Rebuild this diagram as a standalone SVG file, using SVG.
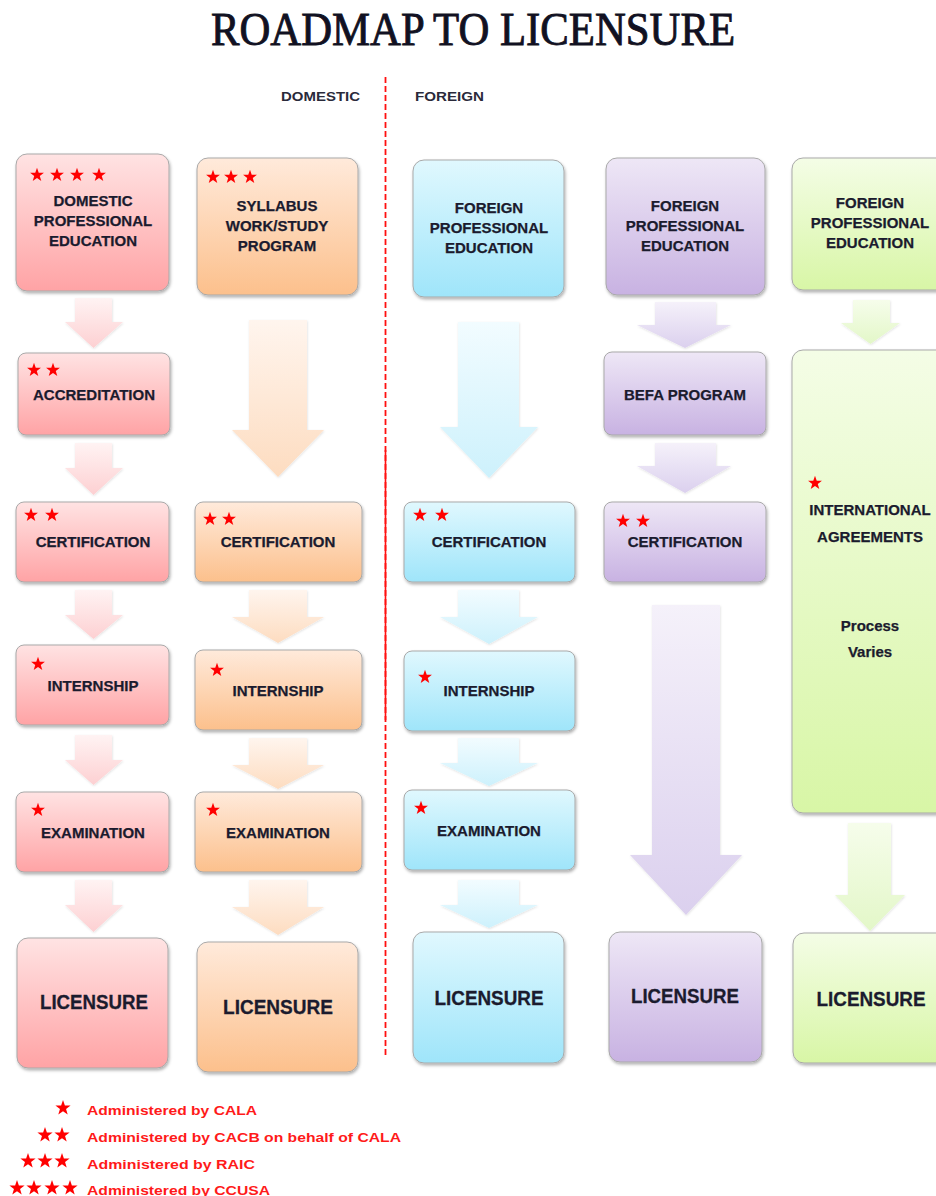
<svg xmlns="http://www.w3.org/2000/svg" width="936" height="1196" viewBox="0 0 936 1196">
<defs>
<linearGradient id="gPink" x1="0" y1="0" x2="0" y2="1"><stop offset="0" stop-color="#ffe3e3"/><stop offset="1" stop-color="#ffa3a5"/></linearGradient>
<linearGradient id="gOrange" x1="0" y1="0" x2="0" y2="1"><stop offset="0" stop-color="#ffeadb"/><stop offset="1" stop-color="#fcc08c"/></linearGradient>
<linearGradient id="gBlue" x1="0" y1="0" x2="0" y2="1"><stop offset="0" stop-color="#e0f8fe"/><stop offset="1" stop-color="#9fe5fa"/></linearGradient>
<linearGradient id="gPurple" x1="0" y1="0" x2="0" y2="1"><stop offset="0" stop-color="#eee7f6"/><stop offset="1" stop-color="#c8b2e2"/></linearGradient>
<linearGradient id="gGreen" x1="0" y1="0" x2="0" y2="1"><stop offset="0" stop-color="#f4fde6"/><stop offset="1" stop-color="#d8f6a6"/></linearGradient>
<linearGradient id="aPink" x1="0" y1="0" x2="0" y2="1"><stop offset="0" stop-color="#fff3f3"/><stop offset="1" stop-color="#fdd0d2"/></linearGradient>
<linearGradient id="aOrange" x1="0" y1="0" x2="0" y2="1"><stop offset="0" stop-color="#fff5ee"/><stop offset="1" stop-color="#fddcc0"/></linearGradient>
<linearGradient id="aBlue" x1="0" y1="0" x2="0" y2="1"><stop offset="0" stop-color="#f2fcff"/><stop offset="1" stop-color="#cdf1fc"/></linearGradient>
<linearGradient id="aPurple" x1="0" y1="0" x2="0" y2="1"><stop offset="0" stop-color="#f5f1fa"/><stop offset="1" stop-color="#dbd0ee"/></linearGradient>
<linearGradient id="aGreen" x1="0" y1="0" x2="0" y2="1"><stop offset="0" stop-color="#f6fdeb"/><stop offset="1" stop-color="#e3f7c8"/></linearGradient>
<filter id="sh" x="-10%" y="-10%" width="130%" height="130%"><feDropShadow dx="1" dy="2" stdDeviation="1.5" flood-color="#000" flood-opacity="0.3"/></filter>
<filter id="ash" x="-10%" y="-10%" width="130%" height="130%"><feDropShadow dx="0.5" dy="1" stdDeviation="1" flood-color="#000" flood-opacity="0.12"/></filter>
<path id="star" d="M0,-7.3 L1.72,-2.36 L6.94,-2.26 L2.77,0.9 L4.29,5.91 L0,2.92 L-4.29,5.91 L-2.77,0.9 L-6.94,-2.26 L-1.72,-2.36 Z"/>
<path id="starL" d="M0,-8 L1.88,-2.59 L7.61,-2.47 L3.04,0.99 L4.7,6.47 L0,3.2 L-4.7,6.47 L-3.04,0.99 L-7.61,-2.47 L-1.88,-2.59 Z"/>
</defs>
<style>
.box{stroke:#a9a9a9;stroke-width:1;filter:url(#sh)}
.pink{fill:url(#gPink)}
.orange{fill:url(#gOrange)}
.blue{fill:url(#gBlue)}
.purple{fill:url(#gPurple)}
.green{fill:url(#gGreen)}
.arr{filter:url(#ash)}
.apink{fill:url(#aPink)}
.aorange{fill:url(#aOrange)}
.ablue{fill:url(#aBlue)}
.apurple{fill:url(#aPurple)}
.agreen{fill:url(#aGreen)}
.lbl{font-family:"Liberation Sans",Arial,sans-serif;font-weight:bold;font-size:15px;fill:#1b1b2e;stroke:#1b1b2e;stroke-width:0.25;text-anchor:middle}
.lic{font-family:"Liberation Sans",Arial,sans-serif;font-weight:bold;font-size:21px;fill:#1b1b2e;stroke:#1b1b2e;stroke-width:0.3;text-anchor:middle}
.hdr{font-family:"Liberation Sans",Arial,sans-serif;font-weight:bold;font-size:13px;fill:#2a2a3a}
.title{font-family:"Liberation Serif","Times New Roman",serif;font-size:46px;fill:#111122;stroke:#111122;stroke-width:0.9;text-anchor:middle}
.leg{font-family:"Liberation Sans",Arial,sans-serif;font-weight:bold;font-size:13.5px;fill:#ff1a1a}
.st{fill:#ff0000}
</style>
<rect width="936" height="1196" fill="#ffffff"/>
<text class="title" x="473" y="45" textLength="524" lengthAdjust="spacingAndGlyphs">ROADMAP TO LICENSURE</text>
<text class="hdr" x="281" y="101" textLength="79" lengthAdjust="spacingAndGlyphs">DOMESTIC</text>
<text class="hdr" x="415" y="101" textLength="69" lengthAdjust="spacingAndGlyphs">FOREIGN</text>
<g id="divider">
<line x1="385.5" y1="77" x2="385.5" y2="1055" stroke="#ff1010" stroke-width="1.8" stroke-dasharray="6,3"/>
<line x1="385.5" y1="450" x2="385.5" y2="720" stroke="#ff1010" stroke-width="1.6"/>
</g>
<g id="connectors">
<path class="arr apink" d="M75,298 H112 V322 H123 L93.5,348 L65,322 H75 Z"/>
<path class="arr apink" d="M75,443 H112 V468 H123 L93.5,495 L65,468 H75 Z"/>
<path class="arr apink" d="M75,590 H112 V615 H123 L93.5,639 L65,615 H75 Z"/>
<path class="arr apink" d="M75,735 H112 V760 H123 L93.5,785 L65,760 H75 Z"/>
<path class="arr apink" d="M75,880 H112 V905 H123 L93.5,932 L65,905 H75 Z"/>
<path class="arr aorange" d="M249,320 H307 V430 H324 L278,477 L232,430 H249 Z"/>
<path class="arr aorange" d="M249,590 H307 V617 H324 L278,643 L232,617 H249 Z"/>
<path class="arr aorange" d="M249,738 H307 V765 H324 L278,789 L232,765 H249 Z"/>
<path class="arr aorange" d="M249,880 H307 V907 H324 L278,935 L232,907 H249 Z"/>
<path class="arr ablue" d="M458,322 H519 V427 H538 L489,478 L440,427 H458 Z"/>
<path class="arr ablue" d="M458,590 H519 V617 H538 L489,644 L440,617 H458 Z"/>
<path class="arr ablue" d="M458,738 H519 V763 H538 L489,786 L440,763 H458 Z"/>
<path class="arr ablue" d="M458,880 H519 V905 H538 L489,928 L440,905 H458 Z"/>
<path class="arr apurple" d="M655,302 H716 V325 H731 L685,348 L637,325 H655 Z"/>
<path class="arr apurple" d="M655,443 H716 V466 H731 L685,493 L637,466 H655 Z"/>
<path class="arr apurple" d="M652,605 H720 V855 H742 L686,915 L630,855 H652 Z"/>
<path class="arr agreen" d="M853,300 H890 V323 H900 L870.5,344 L841,323 H853 Z"/>
<path class="arr agreen" d="M848,823 H891 V895 H905 L870,931 L835,895 H848 Z"/>
</g>
<g id="domestic-education">
<rect class="box pink" x="16" y="154" width="153" height="137" rx="11"/>
<use href="#star" class="st" x="37" y="175"/><use href="#star" class="st" x="57" y="175"/><use href="#star" class="st" x="77" y="175"/><use href="#star" class="st" x="99" y="175"/>
<text class="lbl" x="93" y="206">DOMESTIC</text>
<text class="lbl" x="93" y="226">PROFESSIONAL</text>
<text class="lbl" x="93" y="246">EDUCATION</text>
</g>
<g id="accreditation">
<rect class="box pink" x="18" y="353" width="152" height="82" rx="8"/>
<use href="#star" class="st" x="34" y="370"/><use href="#star" class="st" x="53" y="370"/>
<text class="lbl" x="94" y="400">ACCREDITATION</text>
</g>
<g id="certification-1">
<rect class="box pink" x="16" y="502" width="153" height="80" rx="8"/>
<use href="#star" class="st" x="31" y="515"/><use href="#star" class="st" x="52" y="515"/>
<text class="lbl" x="93" y="547">CERTIFICATION</text>
</g>
<g id="internship-1">
<rect class="box pink" x="16" y="645" width="153" height="80" rx="8"/>
<use href="#star" class="st" x="38" y="664"/>
<text class="lbl" x="93" y="691">INTERNSHIP</text>
</g>
<g id="examination-1">
<rect class="box pink" x="16" y="792" width="153" height="80" rx="8"/>
<use href="#star" class="st" x="38" y="810"/>
<text class="lbl" x="93" y="838">EXAMINATION</text>
</g>
<g id="licensure-1">
<rect class="box pink" x="17" y="938" width="151" height="130" rx="11"/>
<text class="lic" x="94" y="1009" textLength="108" lengthAdjust="spacingAndGlyphs">LICENSURE</text>
</g>
<g id="syllabus">
<rect class="box orange" x="197" y="158" width="161" height="137" rx="11"/>
<use href="#star" class="st" x="213" y="177"/><use href="#star" class="st" x="231" y="177"/><use href="#star" class="st" x="250" y="177"/>
<text class="lbl" x="277" y="211">SYLLABUS</text>
<text class="lbl" x="277" y="231">WORK/STUDY</text>
<text class="lbl" x="277" y="251">PROGRAM</text>
</g>
<g id="certification-2">
<rect class="box orange" x="195" y="502" width="167" height="80" rx="8"/>
<use href="#star" class="st" x="210" y="519"/><use href="#star" class="st" x="229" y="519"/>
<text class="lbl" x="278" y="547">CERTIFICATION</text>
</g>
<g id="internship-2">
<rect class="box orange" x="195" y="650" width="167" height="80" rx="8"/>
<use href="#star" class="st" x="217" y="670"/>
<text class="lbl" x="278" y="696">INTERNSHIP</text>
</g>
<g id="examination-2">
<rect class="box orange" x="195" y="792" width="167" height="80" rx="8"/>
<use href="#star" class="st" x="213" y="810"/>
<text class="lbl" x="278" y="838">EXAMINATION</text>
</g>
<g id="licensure-2">
<rect class="box orange" x="197" y="942" width="161" height="130" rx="11"/>
<text class="lic" x="278" y="1014" textLength="110" lengthAdjust="spacingAndGlyphs">LICENSURE</text>
</g>
<g id="foreign-education-1">
<rect class="box blue" x="413" y="160" width="151" height="137" rx="11"/>
<text class="lbl" x="489" y="213">FOREIGN</text>
<text class="lbl" x="489" y="233">PROFESSIONAL</text>
<text class="lbl" x="489" y="253">EDUCATION</text>
</g>
<g id="certification-3">
<rect class="box blue" x="404" y="502" width="171" height="80" rx="8"/>
<use href="#star" class="st" x="420" y="515"/><use href="#star" class="st" x="442" y="515"/>
<text class="lbl" x="489" y="547">CERTIFICATION</text>
</g>
<g id="internship-3">
<rect class="box blue" x="404" y="651" width="171" height="80" rx="8"/>
<use href="#star" class="st" x="425" y="677"/>
<text class="lbl" x="489" y="696">INTERNSHIP</text>
</g>
<g id="examination-3">
<rect class="box blue" x="404" y="790" width="171" height="80" rx="8"/>
<use href="#star" class="st" x="421" y="808"/>
<text class="lbl" x="489" y="836">EXAMINATION</text>
</g>
<g id="licensure-3">
<rect class="box blue" x="413" y="932" width="151" height="131" rx="11"/>
<text class="lic" x="489" y="1005" textLength="109" lengthAdjust="spacingAndGlyphs">LICENSURE</text>
</g>
<g id="foreign-education-2">
<rect class="box purple" x="606" y="158" width="159" height="137" rx="11"/>
<text class="lbl" x="685" y="211">FOREIGN</text>
<text class="lbl" x="685" y="231">PROFESSIONAL</text>
<text class="lbl" x="685" y="251">EDUCATION</text>
</g>
<g id="befa-program">
<rect class="box purple" x="604" y="352" width="162" height="83" rx="8"/>
<text class="lbl" x="685" y="400">BEFA PROGRAM</text>
</g>
<g id="certification-4">
<rect class="box purple" x="604" y="502" width="162" height="80" rx="8"/>
<use href="#star" class="st" x="623" y="521"/><use href="#star" class="st" x="643" y="521"/>
<text class="lbl" x="685" y="547">CERTIFICATION</text>
</g>
<g id="licensure-4">
<rect class="box purple" x="609" y="932" width="153" height="130" rx="11"/>
<text class="lic" x="685" y="1003" textLength="108" lengthAdjust="spacingAndGlyphs">LICENSURE</text>
</g>
<g id="foreign-education-3">
<rect class="box green" x="792" y="158" width="160" height="132" rx="11"/>
<text class="lbl" x="870" y="208">FOREIGN</text>
<text class="lbl" x="870" y="228">PROFESSIONAL</text>
<text class="lbl" x="870" y="248">EDUCATION</text>
</g>
<g id="international-agreements">
<rect class="box green" x="792" y="350" width="160" height="463" rx="11"/>
<use href="#star" class="st" x="815" y="483"/>
<text class="lbl" x="870" y="515">INTERNATIONAL</text>
<text class="lbl" x="870" y="542">AGREEMENTS</text>
<text class="lbl" x="870" y="631">Process</text>
<text class="lbl" x="870" y="657">Varies</text>
</g>
<g id="licensure-5">
<rect class="box green" x="793" y="933" width="160" height="130" rx="11"/>
<text class="lic" x="871" y="1006" textLength="109" lengthAdjust="spacingAndGlyphs">LICENSURE</text>
</g>
<g id="legend">
<use href="#starL" class="st" x="63" y="1108"/>
<text class="leg" x="87" y="1115" textLength="170" lengthAdjust="spacingAndGlyphs">Administered by CALA</text>
<use href="#starL" class="st" x="45" y="1135"/><use href="#starL" class="st" x="62" y="1135"/>
<text class="leg" x="87" y="1142" textLength="314" lengthAdjust="spacingAndGlyphs">Administered by CACB on behalf of CALA</text>
<use href="#starL" class="st" x="28" y="1161"/><use href="#starL" class="st" x="45" y="1161"/><use href="#starL" class="st" x="62" y="1161"/>
<text class="leg" x="87" y="1169" textLength="168" lengthAdjust="spacingAndGlyphs">Administered by RAIC</text>
<use href="#starL" class="st" x="17" y="1188"/><use href="#starL" class="st" x="34" y="1188"/><use href="#starL" class="st" x="52" y="1188"/><use href="#starL" class="st" x="70" y="1188"/>
<text class="leg" x="87" y="1195" textLength="183" lengthAdjust="spacingAndGlyphs">Administered by CCUSA</text>
</g>
</svg>
